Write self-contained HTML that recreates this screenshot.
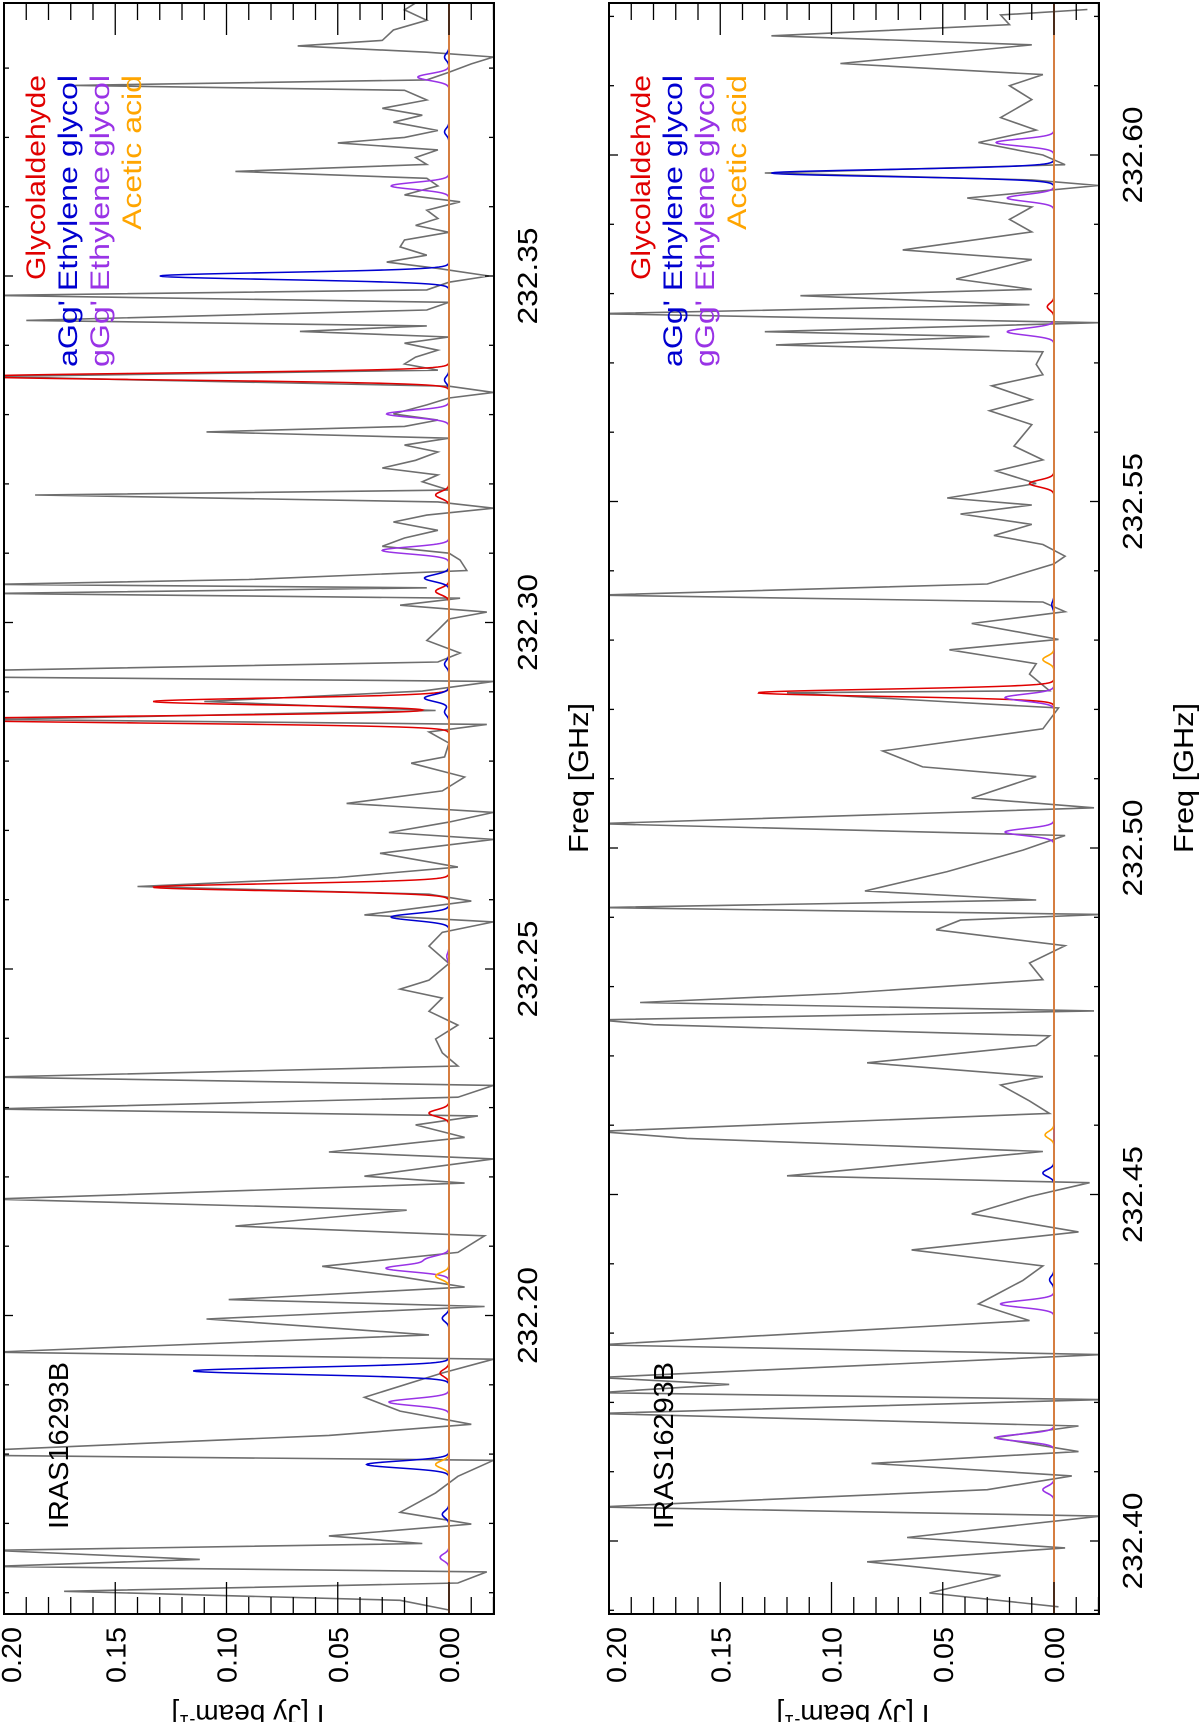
<!DOCTYPE html>
<html><head><meta charset="utf-8"><style>
html,body{margin:0;padding:0;background:#fff;}
svg{display:block;font-family:"Liberation Sans","DejaVu Sans",sans-serif;}
</style></head><body>
<svg id="chart" width="1200" height="1722" viewBox="0 0 1200 1722" xmlns="http://www.w3.org/2000/svg">
<g id="root" transform="translate(0,1722) rotate(-90)"></g>
</svg>
<script>
// ---------- DATA ----------
const panel1Freq = [232.3894,232.3884,232.3869,232.3855,232.3840,232.3832,232.3823,232.3816,232.3806,232.3794,232.3783,232.3775,232.3768,232.3754,232.3742,232.3732,232.3722,232.3710,232.3700,232.3692,232.3682,232.3671,232.3661,232.3651,232.3641,232.3630,232.3617,232.3607,232.3595,232.3583,232.3573,232.3563,232.3552,232.3542,232.3530,232.3520,232.3511,232.3500,232.3491,232.3480,232.3472,232.3462,232.3451,232.3436,232.3428,232.3420,232.3412,232.3403,232.3393,232.3383,232.3373,232.3364,232.3355,232.3350,232.3341,232.3332,232.3324,232.3314,232.3301,232.3292,232.3283,232.3275,232.3266,232.3256,232.3246,232.3234,232.3223,232.3213,232.3203,232.3191,232.3184,232.3174,232.3165,232.3155,232.3145,232.3133,232.3122,232.3110,232.3100,232.3090,232.3075,232.3062,232.3055,232.3050,232.3042,232.3035,232.3025,232.3015,232.3005,232.2989,232.2974,232.2956,232.2943,232.2931,232.2921,232.2915,232.2901,232.2886,232.2873,232.2860,232.2853,232.2842,232.2826,232.2806,232.2797,232.2777,232.2757,232.2739,232.2726,232.2712,232.2697,232.2687,232.2667,232.2647,232.2632,232.2619,232.2608,232.2598,232.2578,232.2568,232.2553,232.2533,232.2508,232.2484,232.2471,232.2458,232.2439,232.2419,232.2399,232.2379,232.2360,232.2344,232.2332,232.2315,232.2298,232.2288,232.2275,232.2257,232.2236,232.2226,232.2201,232.2191,232.2168,232.2152,232.2129,232.2115,232.2091,232.2071,232.2056,232.2041,232.2023,232.2013,232.1995,232.1972,232.1947,232.1937,232.1917,232.1882,232.1862,232.1843,232.1827,232.1806,232.1798,232.1791,232.1768,232.1744,232.1716,232.1699,232.1682,232.1671,232.1661,232.1648,232.1638,232.1630,232.1614,232.1602,232.1589,232.1575];
const panel1Flux = [0.015,0.02,0.01,0.025,0.03,0.068,0.01,-0.02,-0.01,0,0.01,0.168,0.02,0.01,0.03,0.012,0.025,0.005,0.02,0.05,0.005,0.015,0.01,0.096,0.01,0.005,0.02,-0.005,0.01,0.005,0.015,0,0.02,0.022,0.01,0.028,0.005,-0.018,0,0.01,0.205,0,0.01,0.19,0.01,0.067,0,0.02,0.005,0.015,0.02,0.005,0.205,0.14,0,-0.02,0,0.01,0.025,0.005,0.02,0.109,0,0.02,0.005,0.015,0.03,0.005,0.012,0,0.186,0.005,-0.02,0.01,0.025,0.005,0.02,0.03,0,-0.005,-0.008,0.09,0.205,0.01,0.205,-0.005,0.022,-0.017,0,0.005,0.01,-0.005,0.005,0.205,0.205,-0.02,0.012,0.11,0.006,0.205,-0.017,0.009,0,0.002,0.017,-0.007,0.003,0.046,-0.02,0,0.027,-0.02,0.031,-0.004,0.05,0.14,0.009,-0.01,0.038,-0.02,0.003,0.009,0,0.009,0.022,0.003,0.009,-0.004,0.006,0.003,-0.004,0.205,-0.02,-0.004,0.205,-0.013,0.015,-0.007,0.054,-0.02,0.038,-0.007,0.205,0.019,0.096,-0.016,-0.004,0.057,0.022,-0.007,0.099,-0.016,0.109,0.009,0.205,-0.02,0.003,0.038,0.022,-0.01,0.054,0.205,0.205,-0.02,-0.004,0.006,0.022,-0.01,0.054,0.012,0.205,0.112,0.205,-0.017,-0.004,0.173,0.022,0];
const panel2Freq = [232.6210,232.6202,232.6188,232.6172,232.6159,232.6132,232.6116,232.6100,232.6080,232.6054,232.6036,232.6018,232.6000,232.5986,232.5974,232.5964,232.5956,232.5938,232.5925,232.5907,232.5889,232.5863,232.5849,232.5821,232.5806,232.5797,232.5784,232.5771,232.5758,232.5745,232.5738,232.5726,232.5716,232.5698,232.5683,232.5667,232.5647,232.5631,232.5611,232.5580,232.5560,232.5544,232.5526,232.5505,232.5495,232.5482,232.5467,232.5451,232.5438,232.5421,232.5410,232.5381,232.5365,232.5355,232.5341,232.5324,232.5301,232.5286,232.5266,232.5251,232.5227,232.5224,232.5202,232.5172,232.5140,232.5117,232.5103,232.5072,232.5058,232.5035,232.5018,232.4997,232.4966,232.4938,232.4925,232.4914,232.4904,232.4896,232.4882,232.4859,232.4834,232.4810,232.4790,232.4777,232.4765,232.4752,232.4745,232.4729,232.4715,232.4690,232.4670,232.4658,232.4635,232.4617,232.4591,232.4581,232.4562,232.4527,232.4517,232.4497,232.4472,232.4446,232.4420,232.4397,232.4376,232.4342,232.4318,232.4283,232.4269,232.4236,232.4226,232.4214,232.4204,232.4184,232.4166,232.4149,232.4129,232.4112,232.4094,232.4074,232.4049,232.4036,232.4019,232.4005,232.3990,232.3970,232.3950,232.3925,232.3905];
const panel2Flux = [-0.015,0.024,0.02,0.127,0.01,0.096,0.005,0.02,0.01,0.024,0.008,0.034,0.005,-0.005,0.13,0.01,-0.02,0.039,0.01,0.02,0.01,0.068,0.01,0.044,0.01,0.114,0.011,0.205,-0.02,0.13,0.029,0.125,0.005,0.008,0.005,0.028,0.01,0.029,0.01,0.018,0.005,0.026,0.008,0.048,0.01,0.042,0.01,0.027,0.005,-0.005,0,0.03,0.205,0.005,-0.005,0.037,-0.002,0.047,0.008,0.011,0.002,0.12,-0.002,0.005,0.077,0.059,0.008,0.037,-0.018,0.205,-0.005,0.014,0.048,0.085,0.008,0.205,-0.021,0.042,0.053,-0.005,0.011,0.005,0.096,0.186,-0.018,0.205,0.18,0.002,0.008,0.084,0.005,0.024,0.011,0.002,0.205,0.165,0.005,0.12,-0.016,0.011,0.037,-0.011,0.064,0.005,0.014,0.034,0.011,0.205,-0.021,0.205,0.146,0.205,-0.021,0.205,-0.011,0.027,-0.011,0.082,-0.008,0.03,0.205,-0.021,0.027,0.066,-0.005,0.084,0.024,0.056,-0.002];
// Model line lists (rest freq GHz, peak Jy/beam)
const glycolFreq = [232.3355,232.3184,232.3045,232.2886,232.2860,232.2618,232.2292,232.1917,232.5781,232.5526,232.5224];
const glycolAmp  = [0.21,0.006,0.006,0.133,0.23,0.133,0.009,0.004,0.003,0.011,0.133];
const aggFreq = [232.3816,232.3708,232.3500,232.3350,232.3064,232.2940,232.2891,232.2871,232.2575,232.1996,232.1920,232.1785,232.1713,232.5974,232.5351,232.4531,232.4377];
const aggAmp  = [0.002,0.002,0.13,0.002,0.011,0.002,0.011,0.002,0.026,0.003,0.115,0.037,0.003,0.127,0.001,0.005,0.002];
const gggFreq = [232.3787,232.3630,232.3301,232.3104,232.2518,232.2081,232.2068,232.1875,232.1651,232.6018,232.5938,232.5745,232.5217,232.5023,232.4342,232.4149,232.4074];
const gggAmp  = [0.014,0.026,0.028,0.03,0.001,0.01,0.028,0.027,0.004,0.026,0.021,0.021,0.022,0.022,0.024,0.026,0.005];
const aceticFreq = [232.2057,232.1785,232.5272,232.4586];
const aceticAmp  = [0.006,0.006,0.005,0.004];
const fluxTicks = [0.20,0.15,0.10,0.05,0.00];
const fluxTickLabels = ["0.20","0.15","0.10","0.05","0.00"];
const panel1FreqTicks = [232.20,232.25,232.30,232.35];
const panel2FreqTicks = [232.40,232.45,232.50,232.55,232.60];

// ---------- LAYOUT ----------
const NS="http://www.w3.org/2000/svg";
const root=document.getElementById('root');
const H=1722, PXF=6930, PXS=2225, SIG=0.0005;
const panels=[
 {name:'panel-1',zero:449,vTop:4,vBot:494,refF:232.35,refY:276,freq:panel1Freq,flux:panel1Flux,ticks:panel1FreqTicks,labV:537,titleV:588,legV:0},
 {name:'panel-2',zero:1054,vTop:609,vBot:1099,refF:232.60,refY:155,freq:panel2Freq,flux:panel2Flux,ticks:panel2FreqTicks,labV:1142,titleV:1193,legV:605}
];
const uTop=H-3, uBot=H-1614;
function mk(tag,attrs,parent){const e=document.createElementNS(NS,tag);for(const k in attrs)e.setAttribute(k,attrs[k]);(parent||root).appendChild(e);return e;}
function uOf(p,f){return H-(p.refY+(p.refF-f)*PXF);}
function vOf(p,s){return p.zero-s*PXS;}
function fOfU(p,u){return p.refF-((H-u)-p.refY)/PXF;}

panels.forEach((p,pi)=>{
 const g=mk('g',{});
 
 
 const cp=mk('clipPath',{id:'clip'+pi},g);
 mk('rect',{x:uBot,y:p.vTop,width:uTop-uBot,height:p.vBot-p.vTop},cp);
 const plot=mk('g',{'clip-path':'url(#clip'+pi+')'},g);
 // grey observed spectrum
 let d='';
 const n=p.freq.length;
 for(let i=0;i<n;i++){
  const u=uOf(p,p.freq[i]);
  const v=vOf(p,p.flux[i]);
  d+=(i===0?'M':'L')+u.toFixed(1)+','+v.toFixed(1);
 }
 const sp=mk('path',{d:d,fill:'none',stroke:'#6e6e6e','stroke-width':1.6,'stroke-linejoin':'miter'},plot);
 
 
 // models
 const models=[
  {nm:'glycolaldehyde-model',f:glycolFreq,a:glycolAmp,c:'#e00000'},
  {nm:'agg-ethylene-glycol-model',f:aggFreq,a:aggAmp,c:'#0000d0'},
  {nm:'ggg-ethylene-glycol-model',f:gggFreq,a:gggAmp,c:'#9933e6'},
  {nm:'acetic-acid-model',f:aceticFreq,a:aceticAmp,c:'#ffa500'}
 ];
 models.forEach(m=>{
  let dd='';
  for(let u=uBot;u<=uTop;u+=0.5){
   const f=fOfU(p,u);let s=0;
   for(let k=0;k<m.f.length;k++){const x=(f-m.f[k])/SIG;if(Math.abs(x)<6)s+=m.a[k]*Math.exp(-0.5*x*x);}
   dd+=(u===uBot?'M':'L')+u.toFixed(1)+','+vOf(p,s).toFixed(1);
  }
  const mp=mk('path',{d:dd,fill:'none',stroke:m.c,'stroke-width':1.6},plot);
  
  
 });
 const zl=mk('line',{x1:uBot,x2:uTop,y1:p.zero,y2:p.zero,stroke:'#d9823a','stroke-width':1.4},plot);
 
 
 // frame
 const fr=mk('rect',{x:uBot,y:p.vTop,width:uTop-uBot,height:p.vBot-p.vTop,fill:'none',stroke:'#000','stroke-width':2},g);
 
 
 // flux ticks (minor every 0.01)
 for(let k=-2;k<=20;k++){
  const v=vOf(p,k/100);const L=(k%5===0)?32:17;
  mk('line',{x1:uBot,x2:uBot+L,y1:v,y2:v,stroke:'#000','stroke-width':1.3},g);
  mk('line',{x1:uTop,x2:uTop-L,y1:v,y2:v,stroke:'#000','stroke-width':1.3},g);
 }
 fluxTicks.forEach((t,i)=>{
  let v=vOf(p,t); if(i===0) v+=7;
  const tx=mk('text',{x:H-1655,y:v+10,'text-anchor':'middle','font-size':28,textLength:56,lengthAdjust:'spacingAndGlyphs',fill:'#000'},g);
  tx.textContent=fluxTickLabels[i];
  
  
 });
 // freq ticks
 const fmin=fOfU(p,uBot), fmax=fOfU(p,uTop);
 for(let k=Math.ceil(fmin*100);k<=Math.floor(fmax*100);k++){
  const u=uOf(p,k/100);const L=(k%5===0)?9:5;
  mk('line',{x1:u,x2:u,y1:p.vTop,y2:p.vTop+L,stroke:'#000','stroke-width':1.3},g);
  mk('line',{x1:u,x2:u,y1:p.vBot,y2:p.vBot-L,stroke:'#000','stroke-width':1.3},g);
 }
 p.ticks.forEach(t=>{
  const tx=mk('text',{x:uOf(p,t),y:p.labV,'text-anchor':'middle','font-size':28,textLength:97,lengthAdjust:'spacingAndGlyphs',fill:'#000'},g);
  tx.textContent=t.toFixed(2);
  
  
 });
 const xt=mk('text',{x:H-778,y:p.titleV,'text-anchor':'middle','font-size':28,textLength:150,lengthAdjust:'spacingAndGlyphs',fill:'#000'},g);
 xt.textContent='Freq [GHz]';
 
 
 const yc=(pi===0?248:853);
 const yt=mk('text',{x:0,y:0,transform:'translate('+(H-1705)+','+yc+') rotate(-90)','text-anchor':'middle','font-size':28,fill:'#000'},g);
 yt.innerHTML='I [Jy beam<tspan dy="-10" font-size="18">-1</tspan><tspan dy="10">]</tspan>';
 
 
 const src=mk('text',{x:H-1529,y:68+p.legV,'font-size':28,textLength:167,lengthAdjust:'spacingAndGlyphs',fill:'#000'},g);
 src.textContent='IRAS16293B';
 
 
 const leg=[['Glycolaldehyde','#e00000',45,205],["aGg' Ethylene glycol",'#0000d0',77,292],["gGg' Ethylene glycol",'#9933e6',109,292],['Acetic acid','#ffa500',141,155]];
 leg.forEach(l=>{
  const t=mk('text',{x:H-75,y:l[2]+p.legV,'text-anchor':'end','font-size':27,textLength:l[3],lengthAdjust:'spacingAndGlyphs',fill:l[1]},g);
  t.textContent=l[0];
  
  
 });
});
</script>
</body></html>
